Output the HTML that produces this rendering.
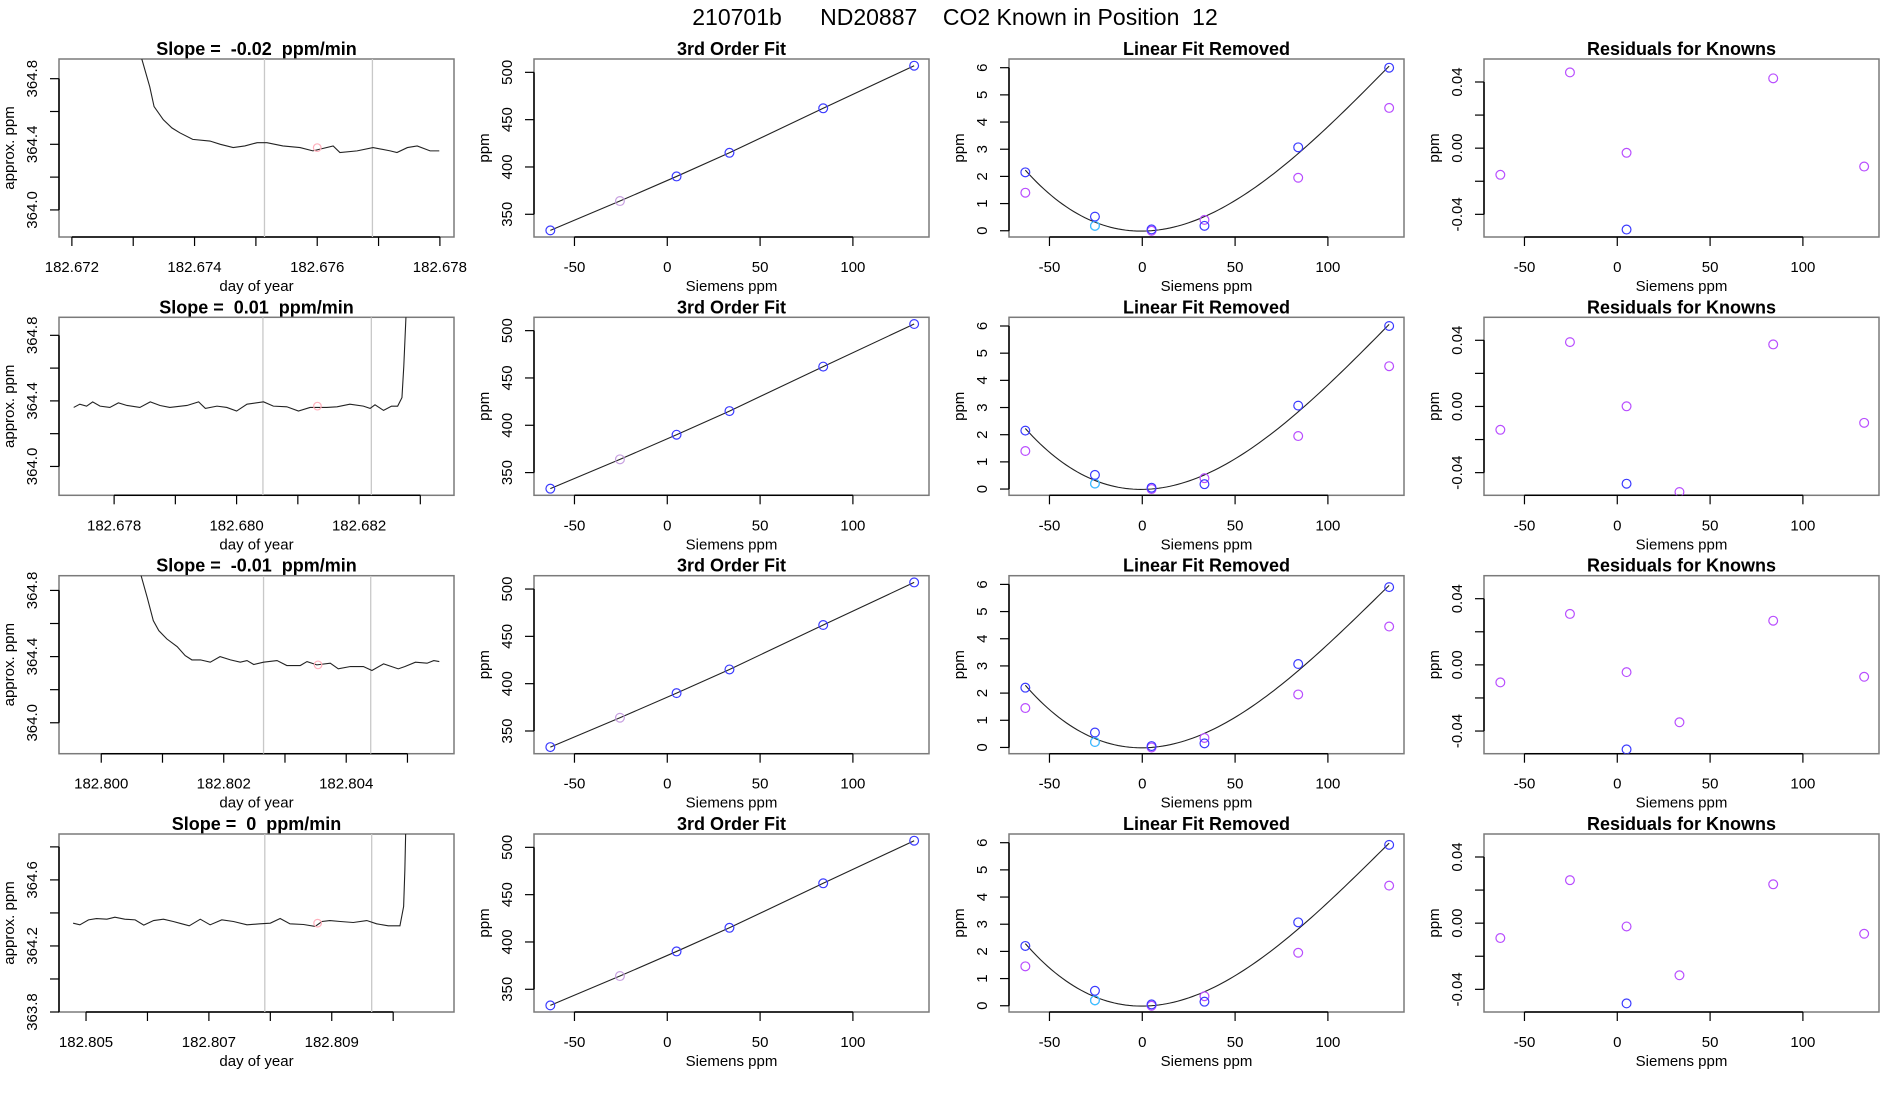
<!DOCTYPE html>
<html><head><meta charset="utf-8"><title>210701b ND20887 CO2 Known in Position 12</title>
<style>
html,body{margin:0;padding:0;background:#fff;width:1900px;height:1100px;overflow:hidden}
svg{display:block}
text{font-family:"Liberation Sans",Arial,sans-serif;fill:#000;white-space:pre}
</style></head>
<body>
<svg id="chart" width="1900" height="1100" viewBox="0 0 1900 1100" xmlns="http://www.w3.org/2000/svg" xml:space="preserve"></svg>
<script>
// ---------- DATA ----------
const ts1T=[182.67311,182.67314,182.67327,182.67334,182.67349,182.67363,182.67376,182.67397,182.67425,182.67442,182.67463,182.67482,182.67502,182.67518,182.67544,182.67572,182.67593,182.67626,182.67637,182.67665,182.67691,182.67719,182.67730,182.67747,182.67763,182.67784,182.67799];
const ts1V=[365.1,364.92,364.75,364.63,364.55,364.50,364.47,364.43,364.42,364.40,364.38,364.39,364.41,364.41,364.39,364.38,364.36,364.39,364.35,364.36,364.38,364.36,364.35,364.38,364.39,364.36,364.36];
const ts2T=[182.67734,182.67744,182.67755,182.67765,182.67777,182.67793,182.67807,182.67821,182.67842,182.67859,182.67875,182.67891,182.67919,182.67938,182.67949,182.67968,182.67984,182.68000,182.68017,182.68044,182.68060,182.68082,182.68101,182.68120,182.68147,182.68164,182.68185,182.68207,182.68218,182.68226,182.68240,182.68253,182.68263,182.68270,182.68273,182.68277];
const ts2V=[364.36,364.38,364.368,364.394,364.368,364.36,364.388,364.372,364.36,364.394,364.372,364.36,364.372,364.394,364.354,364.368,364.36,364.338,364.38,364.394,364.368,364.364,364.338,364.36,364.36,364.364,364.38,364.368,364.354,364.376,364.342,364.368,364.368,364.42,364.61,364.95];
const ts3T=[182.80060,182.80065,182.80075,182.80085,182.80094,182.80107,182.80124,182.80137,182.80148,182.80162,182.80178,182.80194,182.80211,182.80227,182.80238,182.80249,182.80265,182.80287,182.80303,182.80325,182.80336,182.80352,182.80374,182.80387,182.80407,182.80428,182.80442,182.80461,182.80485,182.80496,182.80513,182.80532,182.80543,182.80552];
const ts3V=[365.0,364.89,364.758,364.617,364.557,364.507,364.46,364.406,364.38,364.38,364.366,364.40,364.38,364.366,364.376,364.352,364.366,364.376,364.346,364.346,364.37,364.35,364.36,364.326,364.34,364.34,364.316,364.356,364.326,364.34,364.366,364.36,364.376,364.37];
const ts4T=[182.80479,182.80490,182.80504,182.80517,182.80534,182.80547,182.80563,182.80580,182.80594,182.80610,182.80626,182.80642,182.80656,182.80668,182.80686,182.80702,182.80721,182.80740,182.80762,182.80783,182.80800,182.80816,182.80832,182.80854,182.80873,182.80884,182.80897,182.80914,182.80935,182.80957,182.80973,182.80992,182.81011,182.81017,182.81019,182.81021];
const ts4V=[364.338,364.328,364.358,364.366,364.362,364.374,364.362,364.358,364.326,364.354,364.362,364.348,364.334,364.322,364.362,364.328,364.358,364.348,364.328,364.334,364.338,364.366,364.334,364.330,364.318,364.348,364.354,364.348,364.342,364.354,364.334,364.322,364.322,364.439,364.66,365.0];
const slopeLabels=["-0.02","0.01","-0.01","0"];
const windowStart=[182.67514,182.68043,182.80265,182.80791];
const windowEnd=[182.67690,182.68220,182.80440,182.80965];
const markerT=[182.67600,182.68132,182.80354,182.80877];
const markerV=[364.38,364.368,364.35,364.338];
const ts1Ticks=[182.672,182.673,182.674,182.675,182.676,182.677,182.678];
const ts2Ticks=[182.678,182.679,182.680,182.681,182.682,182.683];
const ts3Ticks=[182.800,182.801,182.802,182.803,182.804,182.805];
const ts4Ticks=[182.805,182.806,182.807,182.808,182.809,182.810];
const tsYTicksA=[364.0,364.2,364.4,364.6,364.8];
const tsYTicksB=[363.8,364.0,364.2,364.4,364.6,364.8];
const siemensX=[-63,-25.5,5,33.5,84,133];
const fitPpm=[333,364,390,415,462,507];
const linBlue1=[2.15,0.52,0.05,0.18,3.07,6.0];
const linPurple1=[1.4,0.18,0.0,0.4,1.95,4.52];
const linBlue2=[2.15,0.52,0.05,0.18,3.07,6.0];
const linPurple2=[1.4,0.2,0.0,0.4,1.95,4.52];
const linBlue3=[2.2,0.55,0.05,0.15,3.07,5.9];
const linPurple3=[1.45,0.2,0.0,0.35,1.95,4.45];
const linBlue4=[2.2,0.55,0.05,0.15,3.07,5.92];
const linPurple4=[1.45,0.2,0.0,0.35,1.95,4.42];
const linCyan=[0.18,0.2,0.2,0.2];
const res1=[-0.0161,0.0458,-0.0028,null,0.0422,-0.0111];
const res2=[-0.0141,0.0389,0.0001,-0.0517,0.0375,-0.0099];
const res3=[-0.0106,0.0308,-0.0044,-0.0347,0.0267,-0.0072];
const res4=[-0.009,0.026,-0.002,-0.0315,0.0235,-0.0064];
const resBlue=[-0.0492,-0.0467,-0.0511,-0.0485];
const sXTicks=[-50,0,50,100];
const fitYTicks=[350,400,450,500];
const linYTicks=[0,1,2,3,4,5,6];
const resYTicks=[-0.04,-0.02,0,0.02,0.04];

// ---------- LAYOUT ----------
const NS="http://www.w3.org/2000/svg";
const svg=document.getElementById('chart');
const COLS=[59,534,1009,1484], ROWS=[59,317.3,575.7,834], W=395, H=178;
function el(tag,parent){const e=document.createElementNS(NS,tag);(parent||svg).appendChild(e);return e;}
function lin(d0,d1,r0,r1){return v=>r0+(v-d0)/(d1-d0)*(r1-r0);}
let clipId=0;

function makePanel(col,row,title,xd,yd,xticks,xlab,yticks,ylab,xlabel,ylabel){
  const L=COLS[col],T=ROWS[row];
  const g=el('g');
  
  
  const sx=lin(xd[0],xd[1],L,L+W), sy=lin(yd[0],yd[1],T+H,T);
  const t=el('text',g);
  
  
  t.setAttribute('x',L+W/2);t.setAttribute('y',T-4);t.setAttribute('text-anchor','middle');
  t.setAttribute('font-size','18');t.setAttribute('font-weight','bold');t.textContent=title;
  const box=el('rect',g);
  
  
  box.setAttribute('x',L);box.setAttribute('y',T);box.setAttribute('width',W);box.setAttribute('height',H);
  box.setAttribute('fill','none');box.setAttribute('stroke','#7a7a7a');box.setAttribute('stroke-width','1.5');
  const xa=el('g',g);
  
  
  const xl=el('line',xa);
  xl.setAttribute('x1',sx(xticks[0]));xl.setAttribute('x2',sx(xticks[xticks.length-1]));
  xl.setAttribute('y1',T+H);xl.setAttribute('y2',T+H);xl.setAttribute('stroke','#000');xl.setAttribute('stroke-width','1.5');
  xticks.forEach((v,i)=>{
    const tk=el('line',xa);
    
    
    tk.setAttribute('x1',sx(v));tk.setAttribute('x2',sx(v));tk.setAttribute('y1',T+H);tk.setAttribute('y2',T+H+9);
    tk.setAttribute('stroke','#000');tk.setAttribute('stroke-width','1.2');
    if(xlab[i]!==null){
      const tl=el('text',xa);
      
      
      tl.setAttribute('x',sx(v));tl.setAttribute('y',T+H+35);tl.setAttribute('text-anchor','middle');tl.setAttribute('font-size','15');
      tl.textContent=xlab[i];
    }
  });
  const xt=el('text',xa);
  
  
  xt.setAttribute('x',L+W/2);xt.setAttribute('y',T+H+54);xt.setAttribute('text-anchor','middle');xt.setAttribute('font-size','15');
  xt.textContent=xlabel;
  const ya=el('g',g);
  
  
  const yl=el('line',ya);
  yl.setAttribute('x1',L);yl.setAttribute('x2',L);yl.setAttribute('y1',sy(yticks[0]));yl.setAttribute('y2',sy(yticks[yticks.length-1]));
  yl.setAttribute('stroke','#000');yl.setAttribute('stroke-width','1.5');
  yticks.forEach((v,i)=>{
    const tk=el('line',ya);
    
    
    tk.setAttribute('x1',L-9);tk.setAttribute('x2',L);tk.setAttribute('y1',sy(v));tk.setAttribute('y2',sy(v));
    tk.setAttribute('stroke','#000');tk.setAttribute('stroke-width','1.2');
    if(ylab[i]!==null){
      const tl=el('text',ya);
      
      
      const x=L-22,y=sy(v);
      tl.setAttribute('x',x);tl.setAttribute('y',y);tl.setAttribute('text-anchor','middle');tl.setAttribute('font-size','15');
      tl.setAttribute('transform','rotate(-90 '+x+' '+y+')');
      tl.textContent=ylab[i];
    }
  });
  const yt=el('text',ya);
  
  
  const yx=L-45,yy=T+H/2;
  yt.setAttribute('x',yx);yt.setAttribute('y',yy);yt.setAttribute('text-anchor','middle');yt.setAttribute('font-size','15');
  yt.setAttribute('transform','rotate(-90 '+yx+' '+yy+')');
  yt.textContent=ylabel;
  const cid='clip'+(clipId++);
  const cp=el('clipPath',g);cp.setAttribute('id',cid);
  const cr=el('rect',cp);cr.setAttribute('x',L);cr.setAttribute('y',T);cr.setAttribute('width',W);cr.setAttribute('height',H);
  const plot=el('g',g);plot.setAttribute('clip-path','url(#'+cid+')');
  
  
  return {sx,sy,plot};
}
function circle(p,x,y,color,r){
  const c=el('circle',p.plot);
  
  
  c.setAttribute('cx',p.sx(x));c.setAttribute('cy',p.sy(y));c.setAttribute('r',r||4.4);
  c.setAttribute('fill','none');c.setAttribute('stroke',color);c.setAttribute('stroke-width','1.2');
  return c;
}
function polyline(p,xs,ys,color,name){
  const pl=el('polyline',p.plot);
  
  
  pl.setAttribute('points',xs.map((x,i)=>p.sx(x).toFixed(2)+','+p.sy(ys[i]).toFixed(2)).join(' '));
  pl.setAttribute('fill','none');pl.setAttribute('stroke',color);pl.setAttribute('stroke-width','1.1');
  return pl;
}
function fmt(v,d){return v.toFixed(d);}

const mt=el('text');


mt.setAttribute('x',955);mt.setAttribute('y',25);mt.setAttribute('text-anchor','middle');mt.setAttribute('font-size','23');
mt.textContent='210701b      ND20887    CO2 Known in Position  12';

const tsT=[ts1T,ts2T,ts3T,ts4T], tsV=[ts1V,ts2V,ts3V,ts4V], tsTicks=[ts1Ticks,ts2Ticks,ts3Ticks,ts4Ticks];
const tsXD=[[182.67179,182.67823],[182.67710,182.68355],[182.79931,182.80576],[182.80456,182.81099]];
const tsYD=[[363.835,364.92],[363.824,364.91],[363.813,364.889],[363.8,364.878]];
for(let r=0;r<4;r++){
  const xt=tsTicks[r], xl=xt.map((v,i)=>i%2===0?fmt(v,3):null);
  const yt=r<3?tsYTicksA:tsYTicksB;
  const yl=yt.map((v,i)=>i%2===0?fmt(v,1):null);
  const p=makePanel(0,r,'Slope =  '+slopeLabels[r]+'  ppm/min',tsXD[r],tsYD[r],xt,xl,yt,yl,'day of year','approx. ppm');
  [windowStart[r],windowEnd[r]].forEach(v=>{
    const vl=el('line',p.plot);
    
    
    vl.setAttribute('x1',p.sx(v));vl.setAttribute('x2',p.sx(v));vl.setAttribute('y1',ROWS[r]);vl.setAttribute('y2',ROWS[r]+H);
    vl.setAttribute('stroke','#c8c8c8');vl.setAttribute('stroke-width','1.3');
  });
  polyline(p,tsT[r],tsV[r],'#222','ppm-trace');
  const m=circle(p,markerT[r],markerV[r],'#ffb0bc',3.8);
  
}
for(let r=0;r<4;r++){
  const p=makePanel(1,r,'3rd Order Fit',[-71.8,141],[326,514.1],sXTicks,sXTicks.map(String),fitYTicks,fitYTicks.map(String),'Siemens ppm','ppm');
  polyline(p,siemensX,fitPpm,'#222','fit-line');
  siemensX.forEach((x,i)=>circle(p,x,fitPpm[i],i===1?'#c7a0e0':'#3a3aff'));
}
function cubicFit(xs,ys){
  const n=4,A=[],b=[];
  for(let i=0;i<n;i++){A.push([0,0,0,0]);b.push(0);}
  xs.forEach((x,k)=>{for(let i=0;i<n;i++){b[i]+=ys[k]*Math.pow(x,i);for(let j=0;j<n;j++)A[i][j]+=Math.pow(x,i+j);}});
  for(let i=0;i<n;i++){for(let k=i+1;k<n;k++){const f=A[k][i]/A[i][i];for(let j=i;j<n;j++)A[k][j]-=f*A[i][j];b[k]-=f*b[i];}}
  const c=[0,0,0,0];for(let i=n-1;i>=0;i--){let s=b[i];for(let j=i+1;j<n;j++)s-=A[i][j]*c[j];c[i]=s/A[i][i];}
  return c;
}
const linB=[linBlue1,linBlue2,linBlue3,linBlue4], linP=[linPurple1,linPurple2,linPurple3,linPurple4];
for(let r=0;r<4;r++){
  const p=makePanel(2,r,'Linear Fit Removed',[-71.8,141],[-0.23,6.32],sXTicks,sXTicks.map(String),linYTicks,linYTicks.map(String),'Siemens ppm','ppm');
  const c=cubicFit(siemensX,linB[r]);
  const cx=[],cy=[];
  for(let k=0;k<=98;k++){const x=siemensX[0]+(siemensX[5]-siemensX[0])*k/98;cx.push(x);cy.push(c[0]+c[1]*x+c[2]*x*x+c[3]*x*x*x);}
  polyline(p,cx,cy,'#222','fit-curve');
  siemensX.forEach((x,i)=>circle(p,x,linP[r][i],'#b84dff'));
  circle(p,siemensX[1],linCyan[r],'#33c8ff');
  siemensX.forEach((x,i)=>circle(p,x,linB[r][i],'#3a3aff'));
}
const resAll=[res1,res2,res3,res4];
for(let r=0;r<4;r++){
  const yl=resYTicks.map((v,i)=>i%2===0?fmt(v,2):null);
  const p=makePanel(3,r,'Residuals for Knowns',[-71.8,141],[-0.0537,0.0539],sXTicks,sXTicks.map(String),resYTicks,yl,'Siemens ppm','ppm');
  siemensX.forEach((x,i)=>{if(resAll[r][i]!==null)circle(p,x,resAll[r][i],'#b84dff');});
  circle(p,siemensX[2],resBlue[r],'#3a3aff');
}
</script>
</body></html>
